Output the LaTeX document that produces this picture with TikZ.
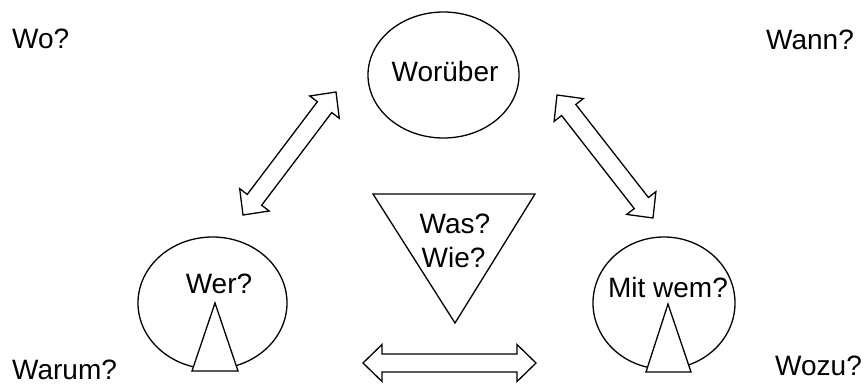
\documentclass[tikz,border=0pt]{standalone}
\usepackage{fontspec}
\setmainfont{Liberation Sans}
\usetikzlibrary{shapes.geometric,calc}
\tikzset{
  lbl/.style={font=\fontsize{28}{30}\selectfont, inner sep=0pt},
  oval/.style={draw, ellipse, line width=1.3pt, inner sep=0pt},
  ln/.style={line width=1.3pt, line join=miter},
}
\newcommand\blockarrow[2]{%
  \path let \p1=(#1), \p2=(#2) in \pgfextra{%
    \pgfmathsetmacro\tmpL{veclen(\x2-\x1,\y2-\y1)}%
    \pgfmathsetmacro\tmpA{atan2(\y2-\y1,\x2-\x1)}%
    \xdef\baLen{\tmpL}\xdef\baAng{\tmpA}};
  \begin{scope}[shift={(#1)}, rotate=\baAng]
    \draw[ln, fill=white] (0pt,0pt) -- (19pt,18.5pt) -- (19pt,9pt)
      -- ({(\baLen-19)*1pt},9pt) -- ({(\baLen-19)*1pt},18.5pt)
      -- ({\baLen*1pt},0pt) -- ({(\baLen-19)*1pt},-18.5pt)
      -- ({(\baLen-19)*1pt},-9pt) -- (19pt,-9pt) -- (19pt,-18.5pt) -- cycle;
  \end{scope}}
\begin{document}
\begin{tikzpicture}[x=1pt,y=-1pt]
  \useasboundingbox (0,0) rectangle (867,385);
  % corner labels
  \node[lbl, anchor=base west] (wo) at (12,49) {Wo?};
  \node[lbl, anchor=base west] (wann) at (766,50) {Wann?};
  \node[lbl, anchor=base west] (warum) at (12,379) {Warum?};
  \node[lbl, anchor=base west] (wozu) at (775,375) {Wozu?};
  % ellipses
  \node[oval, minimum width=151pt, minimum height=126pt] (worueber) at (443.5,75) {};
  \node[lbl, anchor=base] (worueberT) at (445,82) {Worüber};
  \node[oval, minimum width=149pt, minimum height=132pt] (wer) at (212.5,303) {};
  \node[lbl, anchor=base] (werT) at (219,293) {Wer?};
  \node[oval, minimum width=142pt, minimum height=132pt] (mitwem) at (664,303) {};
  \node[lbl, anchor=base] (mitwemT) at (668,297) {Mit wem?};
  % triangles in ellipses
  \coordinate (t1a) at (215,303);
  \coordinate (t1b) at (192,371);
  \coordinate (t1c) at (238,371);
  \draw[ln, fill=white] (t1a) -- (t1b) -- (t1c) -- cycle;
  \coordinate (t2a) at (668,304);
  \coordinate (t2b) at (646,372);
  \coordinate (t2c) at (691,372);
  \draw[ln, fill=white] (t2a) -- (t2b) -- (t2c) -- cycle;
  % inverted triangle
  \coordinate (vA) at (373,194);
  \coordinate (vB) at (535,194);
  \coordinate (vC) at (455,323);
  \draw[ln] (vA) -- (vB) -- (vC) -- cycle;
  \node[lbl, anchor=base] (was) at (455,233) {Was?};
  \node[lbl, anchor=base] (wie) at (453.5,267) {Wie?};
  % block arrows
  \coordinate (a1s) at (243,215);
  \coordinate (a1e) at (336,92);
  \blockarrow{a1s}{a1e}
  \coordinate (a2s) at (557,95);
  \coordinate (a2e) at (653,218);
  \blockarrow{a2s}{a2e}
  \coordinate (a3s) at (363,363);
  \coordinate (a3e) at (536,363);
  \blockarrow{a3s}{a3e}
\end{tikzpicture}
\end{document}
